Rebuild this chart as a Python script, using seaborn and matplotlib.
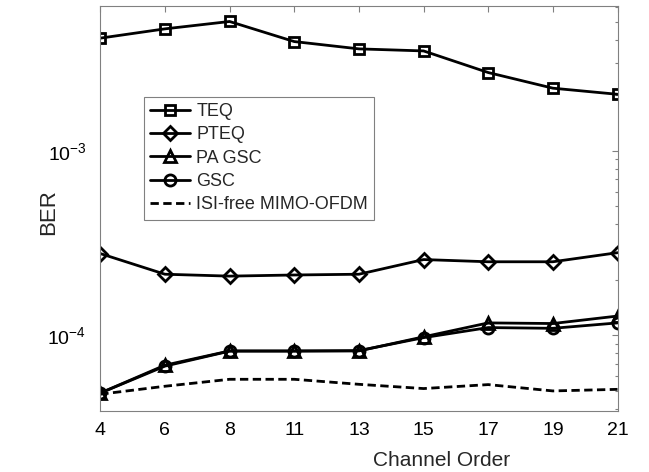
"""
BER vs channel order (log scale)
"""

import numpy as np
import pandas as pd
import seaborn as sns
import matplotlib
matplotlib.use("Agg")
import matplotlib.pyplot as plt
from matplotlib.ticker import LogLocator, NullFormatter

# данные
channel_order = ["4", "6", "8", "11", "13", "15", "17", "19", "21"]
teq = [4.07e-3, 4.57e-3, 5.01e-3, 3.90e-3, 3.56e-3, 3.47e-3, 2.65e-3, 2.18e-3, 2.02e-3]
pteq = [2.77e-4, 2.14e-4, 2.09e-4, 2.12e-4, 2.14e-4, 2.57e-4, 2.50e-4, 2.50e-4, 2.80e-4]
pa_gsc = [4.86e-5, 6.88e-5, 8.22e-5, 8.22e-5, 8.22e-5, 9.8e-5, 1.166e-4, 1.157e-4, 1.27e-4]
gsc = [4.86e-5, 6.80e-5, 8.20e-5, 8.20e-5, 8.25e-5, 9.7e-5, 1.10e-4, 1.09e-4, 1.166e-4]
isi_free = [4.79e-5, 5.29e-5, 5.77e-5, 5.77e-5, 5.42e-5, 5.14e-5, 5.40e-5, 4.99e-5, 5.09e-5]

series = [
    ("TEQ", teq, "s"),
    ("PTEQ", pteq, "D"),
    ("PA GSC", pa_gsc, "^"),
    ("GSC", gsc, "o"),
    ("ISI-free MIMO-OFDM", isi_free, None),
]

sns.set_theme(style="white")
plt.rcParams["font.family"] = ["Liberation Sans", "DejaVu Sans"]
plt.rcParams["mathtext.fontset"] = "custom"
plt.rcParams["mathtext.rm"] = "Liberation Sans"
plt.rcParams["mathtext.it"] = "Liberation Sans:italic"
plt.rcParams["axes.unicode_minus"] = False

fig = plt.figure(figsize=(6.49, 4.72), dpi=100)
ax = fig.add_axes([0.1545, 0.1299, 0.797, 0.858])

pos = np.arange(len(channel_order))
msizes = {"s": 7.5, "D": 7, "^": 8, "o": 8}

for name, vals, mk in series:
    df = pd.DataFrame({"x": pos, "ber": vals})
    if mk is None:
        sns.lineplot(data=df, x="x", y="ber", ax=ax, color="black",
                     linestyle=(0, (3, 1.6)), linewidth=2.0, label=name)
    else:
        sns.lineplot(data=df, x="x", y="ber", ax=ax, color="black",
                     linewidth=2.0, marker=mk, markersize=msizes[mk],
                     markerfacecolor="none", markeredgecolor="black",
                     markeredgewidth=2.0, label=name)

ax.set_yscale("log")
ax.set_ylim(3.9e-5, 6.1e-3)
ax.set_xlim(0, len(channel_order) - 1)
ax.set_xticks(pos)
ax.set_xticklabels(channel_order)

ax.yaxis.set_major_locator(LogLocator(base=10, numticks=10))
ax.yaxis.set_minor_locator(LogLocator(base=10, subs=np.arange(2, 10), numticks=10))
ax.yaxis.set_minor_formatter(NullFormatter())

ax.tick_params(axis="both", which="both", direction="in", top=True, right=True,
               colors="#808080", labelcolor="black", labelsize=14)
ax.tick_params(axis="both", which="major", length=4.5, width=0.8)
ax.tick_params(axis="y", which="minor", length=2.5, width=0.8)
ax.tick_params(axis="x", which="major", pad=8)
ax.tick_params(axis="y", which="major", pad=10)

for sp in ax.spines.values():
    sp.set_color("#808080")
    sp.set_linewidth(0.8)

ax.set_xlabel("Channel Order", fontsize=15)
ax.xaxis.set_label_coords(0.66, -0.1)
ax.set_ylabel("BER", fontsize=16)
ax.yaxis.set_label_coords(-0.08, 0.49)

leg = ax.legend(loc="upper left", bbox_to_anchor=(0.0845, 0.775), borderaxespad=0,
                fontsize=13, handlelength=2.2, handletextpad=0.35,
                labelspacing=0.35, borderpad=0.35, frameon=True, fancybox=False)
leg.get_frame().set_edgecolor("#606060")
leg.get_frame().set_linewidth(0.8)

fig.savefig("out.png", dpi=100)
